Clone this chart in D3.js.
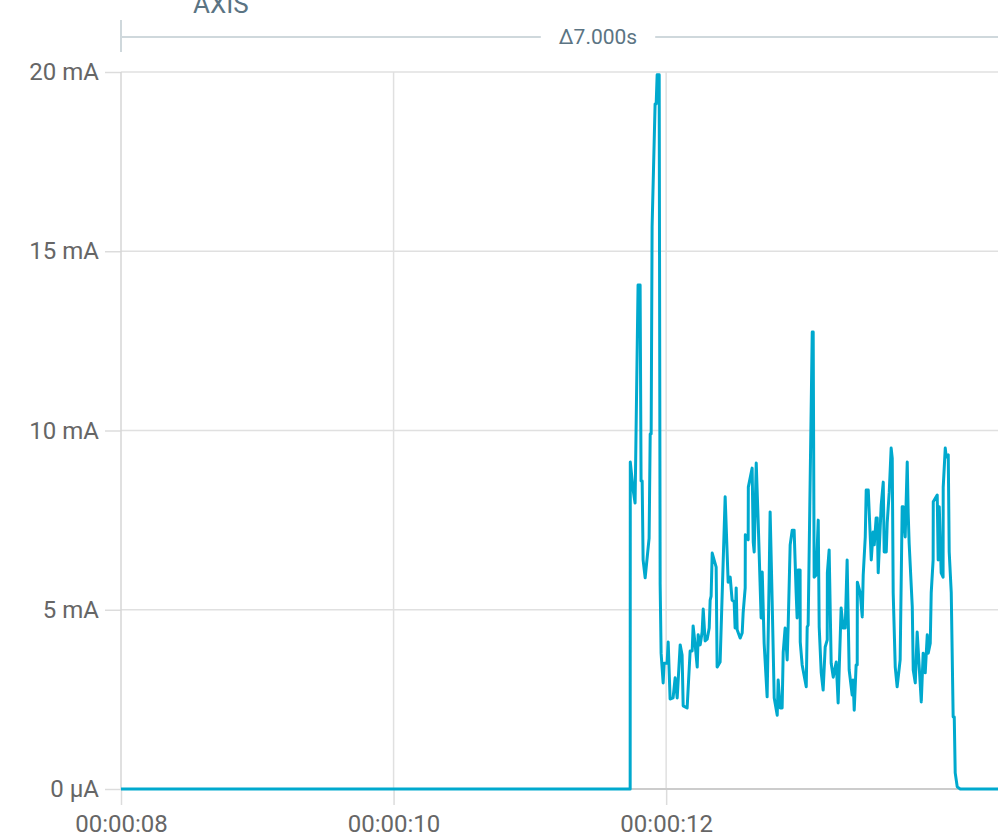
<!DOCTYPE html>
<html>
<head>
<meta charset="utf-8">
<script src="https://cdn.jsdelivr.net/npm/d3@7/dist/d3.min.js"></script>
<style>
body { margin: 0; overflow: hidden; background: #fff; }
text { font-family: Roboto, "Noto Sans", sans-serif; }
</style>
</head>
<body>
<script>
// current trace, seconds vs mA
var times = [8.000, 11.736, 11.737, 11.758, 11.772, 11.794, 11.809, 11.816, 11.824, 11.831,
	11.846, 11.875, 11.883, 11.890, 11.897, 11.919, 11.927, 11.934, 11.949, 11.956,
	11.963, 11.978, 11.985, 12.007, 12.015, 12.029, 12.051, 12.066, 12.081, 12.103,
	12.117, 12.125, 12.154, 12.176, 12.191, 12.198, 12.213, 12.228, 12.235, 12.250,
	12.264, 12.272, 12.286, 12.301, 12.316, 12.323, 12.330, 12.338, 12.367, 12.374,
	12.396, 12.433, 12.455, 12.470, 12.484, 12.499, 12.506, 12.514, 12.521, 12.543,
	12.558, 12.565, 12.580, 12.581, 12.594, 12.602, 12.603, 12.631, 12.639, 12.646,
	12.661, 12.675, 12.697, 12.705, 12.719, 12.741, 12.756, 12.763, 12.778, 12.793,
	12.815, 12.822, 12.837, 12.851, 12.859, 12.873, 12.888, 12.895, 12.910, 12.925,
	12.939, 12.954, 12.961, 12.969, 12.983, 12.984, 12.998, 13.028, 13.035, 13.042,
	13.057, 13.072, 13.079, 13.086, 13.101, 13.116, 13.123, 13.138, 13.152, 13.167,
	13.182, 13.183, 13.196, 13.211, 13.226, 13.248, 13.262, 13.284, 13.299, 13.314,
	13.328, 13.343, 13.365, 13.372, 13.380, 13.394, 13.402, 13.403, 13.424, 13.439,
	13.446, 13.461, 13.468, 13.483, 13.505, 13.519, 13.527, 13.541, 13.549, 13.556,
	13.578, 13.593, 13.600, 13.615, 13.622, 13.637, 13.651, 13.659, 13.666, 13.681,
	13.695, 13.717, 13.732, 13.739, 13.754, 13.769, 13.776, 13.783, 13.806, 13.813,
	13.828, 13.842, 13.857, 13.872, 13.886, 13.901, 13.916, 13.923, 13.938, 13.945,
	13.959, 13.960, 13.989, 13.996, 14.004, 14.018, 14.032, 14.033, 14.048, 14.055,
	14.070, 14.077, 14.092, 14.106, 14.114, 14.121, 14.136, 14.158, 15.000];

var current = [0, 0, 9.12, 8.34, 7.98, 14.06, 14.06, 8.59, 8.59, 6.39,
	5.89, 7.00, 9.90, 9.90, 15.70, 19.11, 19.11, 19.92, 19.92, 5.72,
	3.79, 2.96, 3.51, 3.51, 4.10, 2.51, 2.54, 3.10, 2.54, 4.02,
	3.74, 2.32, 2.26, 3.85, 3.85, 4.55, 4.02, 3.40, 4.30, 4.02,
	4.38, 5.02, 4.13, 4.18, 4.49, 5.27, 5.38, 6.58, 6.19, 3.40,
	3.54, 8.15, 5.77, 5.91, 5.27, 5.22, 4.49, 5.61, 4.44, 4.21,
	4.35, 4.91, 5.61, 7.09, 7.00, 6.95, 8.42, 8.95, 6.89, 6.61,
	9.09, 7.50, 4.77, 6.05, 4.07, 2.57, 5.91, 7.73, 5.22, 2.54,
	2.06, 3.04, 2.26, 2.26, 3.82, 4.49, 3.60, 4.49, 6.81, 7.22,
	7.22, 5.47, 4.77, 6.11, 6.11, 4.10, 3.46, 2.85, 4.52, 4.57,
	8.67, 12.75, 12.75, 5.91, 5.97, 7.50, 4.52, 3.24, 2.76, 3.96,
	4.16, 6.03, 6.67, 3.51, 3.12, 3.54, 2.40, 5.05, 4.49, 4.49,
	6.39, 3.32, 2.62, 3.04, 2.20, 3.46, 3.46, 5.77, 5.47, 4.80,
	5.97, 7.03, 8.34, 8.34, 6.39, 7.17, 6.81, 7.56, 7.56, 6.03,
	7.92, 8.56, 6.61, 6.61, 7.42, 8.28, 9.51, 9.23, 5.47, 3.40,
	2.85, 3.60, 7.87, 7.87, 7.03, 9.12, 7.70, 6.86, 5.08, 3.32,
	2.96, 4.38, 3.40, 2.43, 3.79, 3.24, 4.30, 3.79, 4.07, 5.47,
	6.39, 8.01, 8.20, 6.39, 7.87, 6.03, 5.91, 8.42, 9.51, 9.26,
	9.32, 6.61, 5.47, 2.01, 2.01, 0.45, 0.06, 0, 0];

var xTicks = [8, 10, 12];
var xTickLabels = ["00:00:08", "00:00:10", "00:00:12"];
var yTicks = [0, 5, 10, 15, 20];
var yTickLabels = ["0 µA", "5 mA", "10 mA", "15 mA", "20 mA"];
var axisTitle = "AXIS";
var spanLabel = "Δ7.000s";

var data = times.map(function (t, i) { return {t: t, v: current[i]}; });

var plotLeft = 121, plotRight = 1075, plotTop = 72, plotBottom = 789;

var x = d3.scaleLinear()
	.domain(d3.extent(times))
	.range([plotLeft, plotRight]);
var y = d3.scaleLinear()
	.domain([0, 20])
	.range([plotBottom, plotTop]);

var svg = d3.select("body")
	.append("svg")
	.attr("width", 1100)
	.attr("height", 836);

// grid
svg.append("g")
	.selectAll("line")
	.data(yTicks.slice(1))
	.join("line")
	.attr("x1", plotLeft).attr("x2", plotRight)
	.attr("y1", function (d) { return y(d); })
	.attr("y2", function (d) { return y(d); })
	.attr("stroke", "#e0e0e0")
	.attr("stroke-width", 1.5);

svg.append("g")
	.selectAll("line")
	.data(xTicks.slice(1))
	.join("line")
	.attr("x1", function (d) { return x(d); })
	.attr("x2", function (d) { return x(d); })
	.attr("y1", plotTop).attr("y2", plotBottom)
	.attr("stroke", "#e0e0e0")
	.attr("stroke-width", 1.5);

// axes
svg.append("g")
	.attr("transform", "translate(" + plotLeft + ",0)")
	.call(d3.axisLeft(y)
		.tickValues(yTicks)
		.tickFormat(function (d, i) { return yTickLabels[i]; })
		.tickSize(16)
		.tickPadding(6));

svg.append("g")
	.attr("transform", "translate(0," + plotBottom + ")")
	.call(d3.axisBottom(x)
		.tickValues(xTicks)
		.tickFormat(function (d, i) { return xTickLabels[i]; })
		.tickSize(16)
		.tickPadding(10));

svg.selectAll(".domain").remove();
svg.selectAll(".tick line")
	.attr("stroke", "#dcdcdc")
	.attr("stroke-width", 1.5);
svg.selectAll(".tick text")
	.attr("fill", "#666")
	.style("font-size", "24px")
	.style("font-family", "Roboto, sans-serif");

svg.append("line")
	.attr("x1", plotLeft).attr("x2", plotLeft)
	.attr("y1", plotTop).attr("y2", plotBottom)
	.attr("stroke", "#d6d6d6")
	.attr("stroke-width", 1.5);
svg.append("line")
	.attr("x1", plotLeft).attr("x2", plotRight)
	.attr("y1", plotBottom).attr("y2", plotBottom)
	.attr("stroke", "#cccccc")
	.attr("stroke-width", 2);

// trace
svg.append("path")
	.datum(data)
	.attr("fill", "none")
	.attr("stroke", "#00a9ce")
	.attr("stroke-width", 3)
	.attr("stroke-linejoin", "round")
	.attr("d", d3.line()
		.x(function (d) { return x(d.t); })
		.y(function (d) { return y(d.v); }));

// header: axis title and span marker
svg.append("text")
	.attr("x", 193)
	.attr("y", 13)
	.attr("fill", "#5b7483")
	.style("font-size", "26px")
	.text(axisTitle);

var spanY = 37;
var mid = (x.range()[0] + x.range()[1]) / 2;
var span = svg.append("text")
	.attr("x", mid)
	.attr("y", 44)
	.attr("text-anchor", "middle")
	.attr("fill", "#5b7483")
	.style("font-size", "21px")
	.text(spanLabel);
var half = span.node().getComputedTextLength() / 2 + 18;

svg.append("path")
	.attr("fill", "none")
	.attr("stroke", "#cfd8dc")
	.attr("stroke-width", 2)
	.attr("d", "M" + plotLeft + "," + spanY + "L" + (mid - half) + "," + spanY +
		"M" + (mid + half) + "," + spanY + "L" + plotRight + "," + spanY +
		"M" + plotLeft + ",20L" + plotLeft + ",52");
</script>
</body>
</html>
